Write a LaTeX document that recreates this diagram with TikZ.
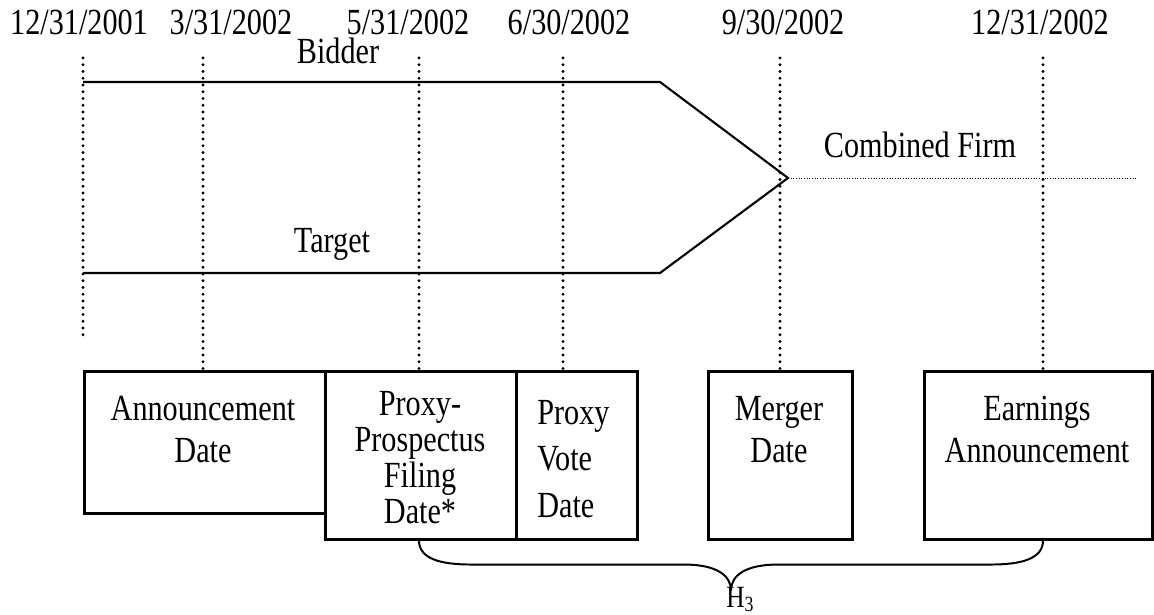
\documentclass[tikz,border=0pt]{standalone}
\usepackage{fontspec}
\setmainfont{Liberation Serif}[FakeStretch=0.82]
\usetikzlibrary{calc}
\usetikzlibrary{positioning}
\tikzstyle{dotline} = [line width=2.2pt,line cap=round,dash pattern=on 0pt off 4.8pt]
\tikzstyle{firmline} = [line width=1.5pt]
\tikzstyle{datebox} = [draw,line width=1.8pt,rectangle,inner sep=0pt,anchor=north west]
\newcommand{\pxu}{0.025cm}
\newcommand{\fs}[1]{\fontsize{26.2pt}{#1}\selectfont}

\begin{document}
\begin{tikzpicture}[x=\pxu,y=-\pxu,every node/.style={font=\fs{30pt}}]
	\useasboundingbox (0,0) rectangle (1154,615);
	% dates along the top
	\node (d1) at (79,22.5) {12/31/2001};
	\node (d2) at (231,22.5) {3/31/2002};
	\node (d3) at (408,22.5) {5/31/2002};
	\node (d4) at (569,22.5) {6/30/2002};
	\node (d5) at (783,22.5) {9/30/2002};
	\node (d6) at (1040,22.5) {12/31/2002};
	\coordinate (t1) at (83,58);
	\coordinate (t2) at (203,58);
	\coordinate (t3) at (419,58);
	\coordinate (t4) at (563,58);
	\coordinate (t5) at (780,58);
	\coordinate (t6) at (1043,58);
	% event boxes
	\node[datebox,minimum width=241*\pxu,minimum height=142*\pxu] (ann) at (83,370) {};
	\node[datebox,minimum width=191*\pxu,minimum height=168*\pxu] (pp) at (324,370) {};
	\node[datebox,minimum width=121*\pxu,minimum height=168*\pxu] (pv) at (515,370) {};
	\node[datebox,minimum width=144*\pxu,minimum height=168*\pxu] (mrg) at (707,370) {};
	\node[datebox,minimum width=228*\pxu,minimum height=168*\pxu] (earn) at (923,370) {};
	\node[align=center,font=\fs{29.8pt}] (anntxt) at (203,429.5) {Announcement\\Date};
	\node[align=center,font=\fs{25.5pt}] (pptxt) at (420,457.7) {Proxy-\\Prospectus\\Filing\\Date*};
	\node[align=left,font=\fs{33pt},anchor=west,inner sep=0pt] (pvtxt) at (537,459) {Proxy\\Vote\\Date};
	\node[align=center,font=\fs{29.8pt}] (mrgtxt) at (779,429.5) {Merger\\Date};
	\node[align=center,font=\fs{29.8pt}] (earntxt) at (1037,429.5) {Earnings\\Announcement};
	% dotted date lines
	\coordinate (b1) at (83,337);
	\draw[dotline] (t1) -- (b1);
	\draw[dotline] (t2) -- (t2 |- ann.north);
	\draw[dotline] (t3) -- (t3 |- pp.north);
	\draw[dotline] (t4) -- (t4 |- pv.north);
	\draw[dotline] (t5) -- (t5 |- mrg.north);
	\draw[dotline] (t6) -- (t6 |- earn.north);
	% bidder and target merge
	\coordinate (bl) at (83,82);
	\coordinate (bb) at (660,82);
	\coordinate (tip) at (788,178);
	\coordinate (tb) at (660,273);
	\coordinate (tl) at (83,273);
	\coordinate (cf) at (1137,178);
	\draw[firmline] (bl) -- (bb) -- (tip) -- (tb) -- (tl);
	\draw[line width=0.7pt,dash pattern=on 0.7pt off 1.2pt] (tip) -- (cf);
	\node (bidder) at (338,50.5) {Bidder};
	\node (target) at (332,244.8) {Target};
	\node (combined) at (920,144.5) {Combined Firm};
	% brace
	\coordinate (hl) at (t3 |- pp.south);
	\coordinate (hr) at (t6 |- earn.south);
	\coordinate (htip) at ($(hl)!0.5!(hr)+(0,50)$);
	\draw[line width=1.4pt] (hl) .. controls +(0,18) and +(-31,0) .. ($(hl)+(52,24)$) -- ($(htip)+(-47,-26)$) .. controls +(31,0) and +(0,-16) .. (htip) .. controls +(0,-16) and +(-31,0) .. ($(htip)+(47,-26)$) -- ($(hr)+(-52,24)$) .. controls +(31,0) and +(0,18) .. (hr);
	\node[anchor=north west,inner sep=0pt,font=\fontsize{22pt}{24pt}\selectfont] (h3) at ($(htip)+(-5,-4)$) {H\textsubscript{3}};
\end{tikzpicture}
\end{document}
